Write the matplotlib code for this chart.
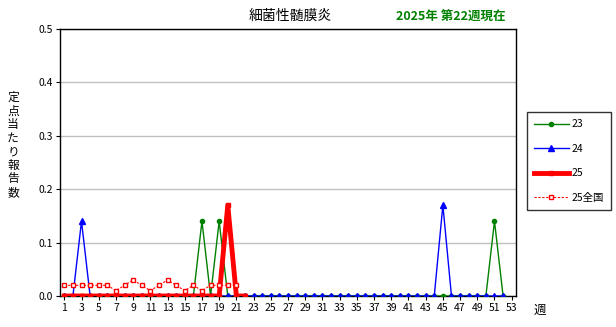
import matplotlib
matplotlib.use('Agg')
import matplotlib.pyplot as plt
import numpy as np

plt.rcParams['font.family'] = ['Noto Sans CJK JP', 'DejaVu Sans']

# weekly values
weeks = list(range(1, 54))
w23 = [0]*16 + [0.14, 0, 0.14] + [0]*31 + [0.14, 0]          # weeks 1-52
w24 = [0, 0, 0.14] + [0]*41 + [0.17] + [0]*7                # weeks 1-52
w25 = [0]*19 + [0.17, 0, 0]                                  # weeks 1-22
w25_nat = [0.02, 0.02, 0.02, 0.02, 0.02, 0.02, 0.01, 0.02, 0.03, 0.02,
           0.01, 0.02, 0.03, 0.02, 0.01, 0.02, 0.01, 0.02, 0.02, 0.02, 0.02]  # weeks 1-21

fig = plt.figure(figsize=(6.16, 3.27), dpi=100)
ax = fig.add_axes([60/616, 31/327, 456/616, 267/327])

ax.plot(weeks[:len(w23)], w23, color='green', lw=1, marker='o', ms=3, label='23', zorder=3)
ax.plot(weeks[:len(w24)], w24, color='blue', lw=1, marker='^', ms=4, label='24', zorder=4)
ax.plot(weeks[:len(w25)], w25, color='red', lw=3.5, marker='s', ms=3.5, label='25', zorder=5)
ax.plot(weeks[:len(w25_nat)], w25_nat, color='red', lw=0.8, ls=(0, (2, 1.5)), marker='s', ms=3.5,
        mfc='white', mec='red', mew=1, label='25全国', zorder=6)

ax.set_xlim(0.5, 53.5)
ax.set_ylim(0, 0.5)
ax.set_yticks(np.arange(0, 0.51, 0.1))
ax.set_yticklabels(['%.1f' % v for v in np.arange(0, 0.51, 0.1)], fontsize=7.5)
ax.set_xticks(range(1, 54, 2))
ax.set_xticklabels([str(w) for w in range(1, 54, 2)], fontsize=7.5)
ax.tick_params(axis='both', length=3, width=0.8, pad=2)
ax.yaxis.grid(True, color='#c0c0c0', lw=1)
ax.set_axisbelow(True)
for s in ax.spines.values():
    s.set_linewidth(1)

fig.text(13/616, 1 - 145/327, '\n'.join('定点当たり報告数'), fontsize=8.5, ha='center', va='center',
         linespacing=1.05)
fig.text(540/616, 1 - 310/327, '週', fontsize=9, ha='center', va='center')
fig.text(290/616, 1 - 16/327, '細菌性髄膜炎', fontsize=10, ha='center', va='center')
fig.text(451/616, 1 - 16/327, '2025年 第22週現在', fontsize=9, ha='center', va='center',
         color='green', fontweight='bold')

leg = fig.legend(loc='upper left', bbox_to_anchor=(527/616, 1 - 112/327), fontsize=7.5,
                 frameon=True, fancybox=False, edgecolor='black', handlelength=3.3,
                 labelspacing=1.4, borderpad=0.7, handletextpad=0.3, borderaxespad=0)
leg.get_frame().set_linewidth(1)

fig.savefig('out.png', dpi=100)
